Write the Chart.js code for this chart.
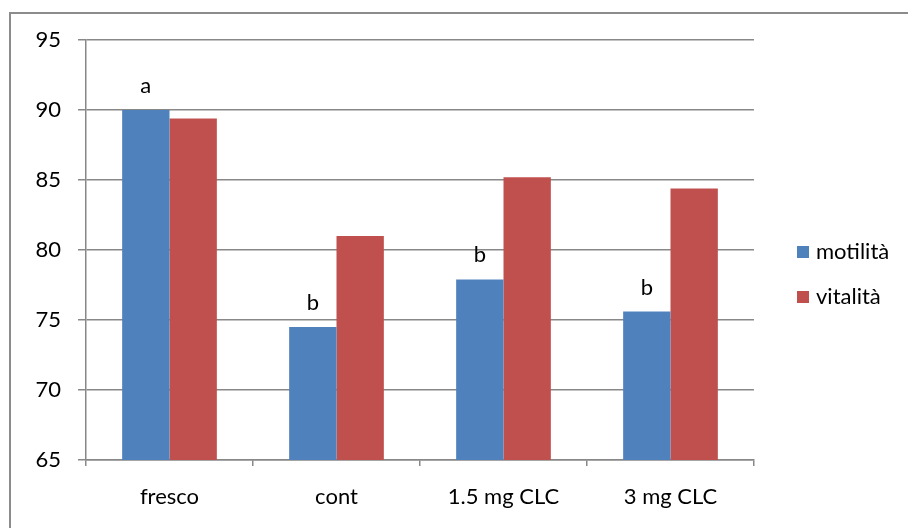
<!DOCTYPE html>
<html>
<head>
<meta charset="utf-8">
<script src="https://cdn.jsdelivr.net/npm/chart.js@4"></script>
<style>
  html, body { margin: 0; padding: 0; background: #fff; }
  #wrap { width: 908px; height: 528px; }
</style>
</head>
<body>
<div id="wrap"><canvas id="c" width="908" height="528"></canvas></div>
<script>
// Categories, series and significance letters
const categories = ['fresco', 'cont', '1.5 mg CLC', '3 mg CLC'];
const motilita = [90.0, 74.5, 77.9, 75.6];
const vitalita = [89.4, 81.0, 85.2, 84.4];
const motilitaLetters = ['a', 'b', 'b', 'b'];
const seriesNames = ['motilità', 'vitalità'];
const yTicks = [65, 70, 75, 80, 85, 90, 95];

const FONT = 'Lato, "Open Sans", sans-serif';
const FONT_SIZE = 22;
const GRID = '#888888';
const BLUE = '#4F81BD';
const RED = '#C0504D';

// Outer frame (top and left edges)
const framePlugin = {
  id: 'frame',
  beforeDraw(chart) {
    const ctx = chart.ctx;
    ctx.save();
    ctx.strokeStyle = '#8c8c8c';
    ctx.lineWidth = 2;
    ctx.beginPath();
    ctx.moveTo(10, 528);
    ctx.lineTo(10, 13);
    ctx.lineTo(908, 13);
    ctx.stroke();
    ctx.restore();
  }
};

// Letters above the motilità bars
const lettersPlugin = {
  id: 'letters',
  afterDatasetsDraw(chart) {
    const ctx = chart.ctx;
    const meta = chart.getDatasetMeta(0);
    ctx.save();
    ctx.fillStyle = '#000';
    ctx.font = FONT_SIZE + 'px ' + FONT;
    ctx.textAlign = 'center';
    ctx.textBaseline = 'alphabetic';
    meta.data.forEach((bar, i) => {
      ctx.fillText(motilitaLetters[i], bar.x, bar.y - 17);
    });
    ctx.restore();
  }
};

// Legend on the right
const legendPlugin = {
  id: 'sideLegend',
  afterDraw(chart) {
    const ctx = chart.ctx;
    ctx.save();
    ctx.font = FONT_SIZE + 'px ' + FONT;
    ctx.textBaseline = 'middle';
    ctx.textAlign = 'left';
    chart.data.datasets.forEach((ds, i) => {
      const y = 252 + i * 45;
      ctx.fillStyle = ds.backgroundColor;
      ctx.fillRect(797, y - 6, 12, 12);
      ctx.fillStyle = '#000';
      ctx.fillText(ds.label, 816, y);
    });
    ctx.restore();
  }
};

new Chart(document.getElementById('c'), {
  type: 'bar',
  data: {
    labels: categories,
    datasets: [
      { label: seriesNames[0], data: motilita, backgroundColor: BLUE },
      { label: seriesNames[1], data: vitalita, backgroundColor: RED }
    ]
  },
  options: {
    responsive: false,
    animation: false,
    devicePixelRatio: 1,
    layout: { padding: { left: 0, top: 40, right: 154, bottom: 0 } },
    plugins: {
      legend: { display: false },
      tooltip: { enabled: false }
    },
    datasets: {
      bar: { categoryPercentage: 0.567, barPercentage: 1.0, borderWidth: 0 }
    },
    scales: {
      x: {
        offset: true,
        grid: {
          offset: true,
          drawOnChartArea: false,
          drawTicks: true,
          tickLength: 6,
          color: GRID,
          lineWidth: 1.5
        },
        border: { display: true, color: GRID, width: 1.5 },
        ticks: {
          color: '#000',
          font: { family: FONT, size: FONT_SIZE },
          padding: 18,
          maxRotation: 0
        },
        afterFit(s) { s.height = 68; }
      },
      y: {
        min: 65,
        max: 95,
        afterBuildTicks(s) { s.ticks = yTicks.map(v => ({ value: v })); },
        grid: {
          color: GRID,
          lineWidth: 1.5,
          drawTicks: true,
          tickLength: 8
        },
        border: { display: true, color: GRID, width: 1.5 },
        ticks: {
          color: '#000',
          font: { family: FONT, size: FONT_SIZE },
          padding: 17
        },
        afterFit(s) { s.width = 86; }
      }
    }
  },
  plugins: [framePlugin, lettersPlugin, legendPlugin]
});
</script>
</body>
</html>
